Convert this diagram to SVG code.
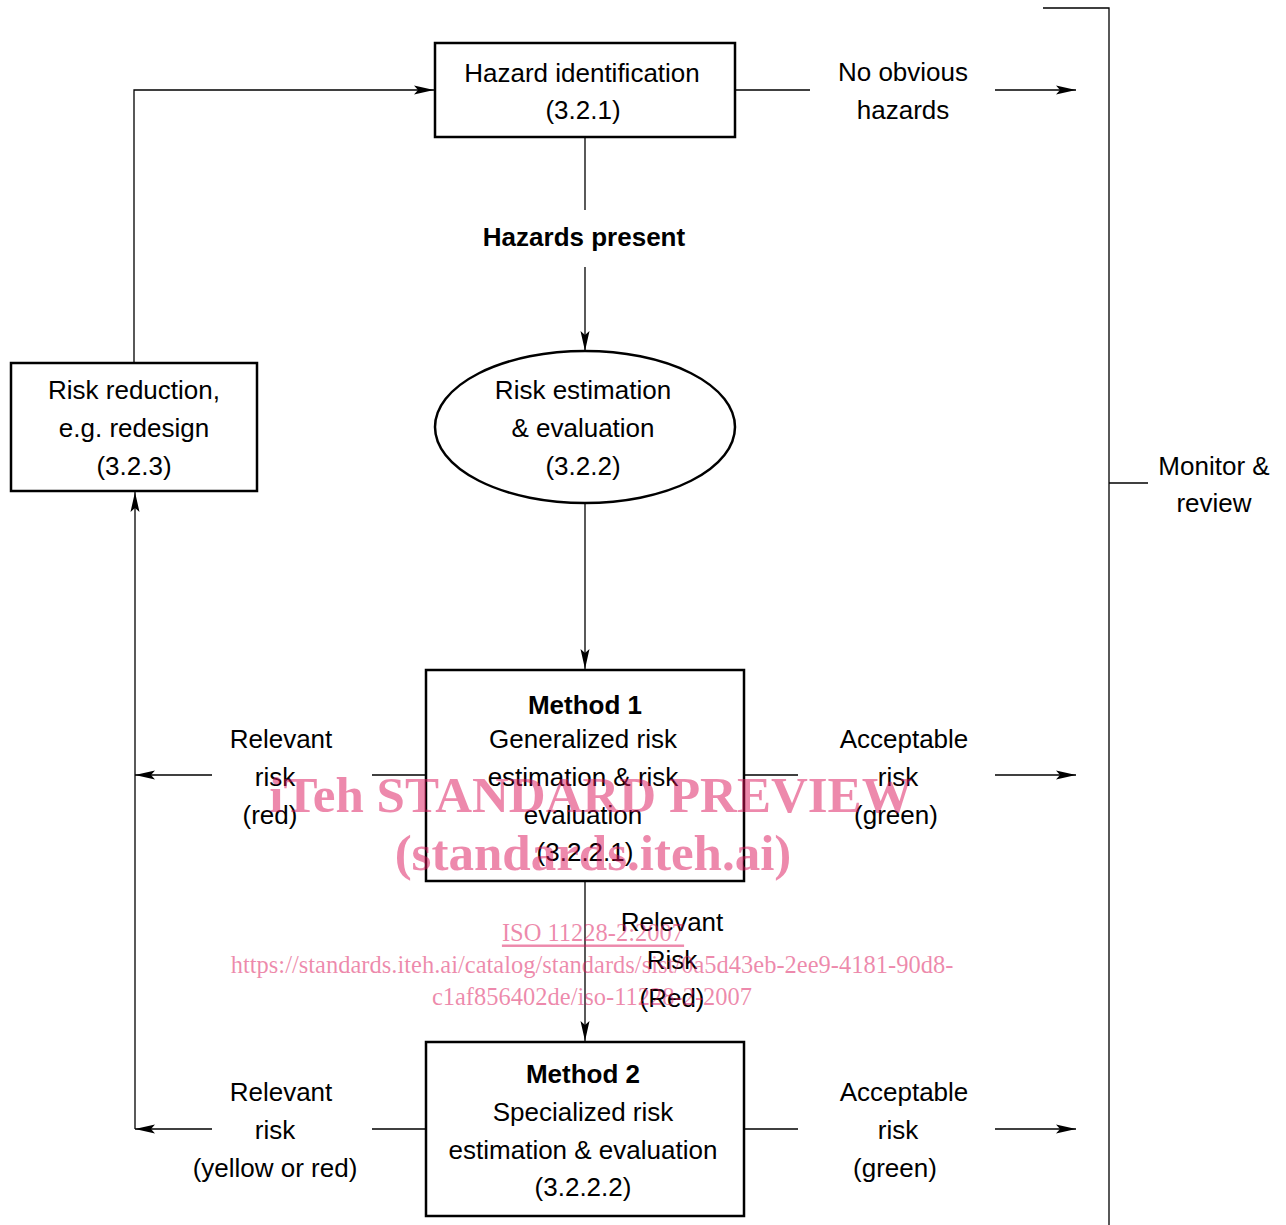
<svg xmlns="http://www.w3.org/2000/svg" width="1286" height="1225" viewBox="0 0 1286 1225">
<defs>
<marker id="arr" viewBox="0 0 20 10" refX="20" refY="5" markerWidth="20" markerHeight="10" markerUnits="userSpaceOnUse" orient="auto">
<path d="M0,0.5 L20,5 L0,9.5 L4,5 Z" fill="#000"/>
</marker>
<style>
.t{font-family:"Liberation Sans",Arial,sans-serif;font-size:26px;fill:#000;text-anchor:middle;dominant-baseline:central}
.b{font-weight:bold}
.box{fill:#fff;stroke:#000;stroke-width:2.5}
.ln{fill:none;stroke:#000;stroke-width:1.3}
.a{marker-end:url(#arr)}
.wm{font-family:"Liberation Serif","Times New Roman",serif;fill:#dc145a;fill-opacity:0.5;text-anchor:middle;dominant-baseline:central}
</style>
</defs>
<rect width="1286" height="1225" fill="#fff"/>
<g id="connectors">
<path class="ln" d="M735,90 H810"/>
<path class="ln a" d="M995,90 H1076"/>
<path class="ln" d="M1043,8 H1109 V1225"/>
<path class="ln" d="M1109,483 H1148"/>
<path class="ln" d="M585,137 V210"/>
<path class="ln a" d="M585,267 V351"/>
<path class="ln a" d="M585,503 V669"/>
<path class="ln" d="M426,775 H372"/>
<path class="ln a" d="M212,775 H135"/>
<path class="ln" d="M744,775 H798"/>
<path class="ln a" d="M995,775 H1076"/>
<path class="ln a" d="M585,881 V1041"/>
<path class="ln" d="M426,1129 H372"/>
<path class="ln a" d="M212,1129 H135"/>
<path class="ln" d="M744,1129 H798"/>
<path class="ln a" d="M995,1129 H1076"/>
<path class="ln a" d="M135,1129 V492"/>
<path class="ln a" d="M134,363 V90 H434"/>
</g>
<g id="hazard-identification">
<rect class="box" x="435" y="43" width="300" height="94"/>
<text class="t" x="582" y="73">Hazard identification</text>
<text class="t" x="583" y="110">(3.2.1)</text>
</g>
<g id="label-no-obvious">
<text class="t" x="903" y="72">No obvious</text>
<text class="t" x="903" y="110">hazards</text>
</g>
<g id="monitor-review">
<text class="t" x="1214" y="466">Monitor &amp;</text>
<text class="t" x="1214" y="503">review</text>
</g>
<g id="label-hazards-present">
<text class="t b" x="584" y="237">Hazards present</text>
</g>
<g id="risk-estimation">
<ellipse class="box" cx="585" cy="427" rx="150" ry="76"/>
<text class="t" x="583" y="390">Risk estimation</text>
<text class="t" x="583" y="428">&amp; evaluation</text>
<text class="t" x="583" y="466">(3.2.2)</text>
</g>
<g id="risk-reduction">
<rect class="box" x="11" y="363" width="246" height="128"/>
<text class="t" x="134" y="390">Risk reduction,</text>
<text class="t" x="134" y="428">e.g. redesign</text>
<text class="t" x="134" y="466">(3.2.3)</text>
</g>
<g id="method1">
<rect class="box" x="426" y="670" width="318" height="211"/>
<text class="t b" x="585" y="705">Method 1</text>
<text class="t" x="583" y="739">Generalized risk</text>
<text class="t" x="583" y="777">estimation &amp; risk</text>
<text class="t" x="583" y="815">evaluation</text>
<text class="t" x="585" y="852">(3.2.2.1)</text>
</g>
<g id="label-m1-relevant">
<text class="t" x="281" y="739">Relevant</text>
<text class="t" x="275" y="777">risk</text>
<text class="t" x="270" y="815">(red)</text>
</g>
<g id="label-m1-acceptable">
<text class="t" x="904" y="739">Acceptable</text>
<text class="t" x="898" y="777">risk</text>
<text class="t" x="896" y="815">(green)</text>
</g>
<g id="label-m1-down">
<text class="t" x="672" y="922">Relevant</text>
<text class="t" x="672" y="960">Risk</text>
<text class="t" x="672" y="998">(Red)</text>
</g>
<g id="method2">
<rect class="box" x="426" y="1042" width="318" height="174"/>
<text class="t b" x="583" y="1074">Method 2</text>
<text class="t" x="583" y="1112">Specialized risk</text>
<text class="t" x="583" y="1150">estimation &amp; evaluation</text>
<text class="t" x="583" y="1187">(3.2.2.2)</text>
</g>
<g id="label-m2-relevant">
<text class="t" x="281" y="1092">Relevant</text>
<text class="t" x="275" y="1130">risk</text>
<text class="t" x="275" y="1168">(yellow or red)</text>
</g>
<g id="label-m2-acceptable">
<text class="t" x="904" y="1092">Acceptable</text>
<text class="t" x="898" y="1130">risk</text>
<text class="t" x="895" y="1168">(green)</text>
</g>
<g id="watermark">
<text class="wm" x="591" y="795" font-size="51" font-weight="bold">iTeh STANDARD PREVIEW</text>
<text class="wm" x="593" y="853" font-size="51" font-weight="bold">(standards.iteh.ai)</text>
<text class="wm" x="593" y="932" font-size="24.5" text-decoration="underline">ISO 11228-2:2007</text>
<text class="wm" x="592" y="964" font-size="24.5">https://standards.iteh.ai/catalog/standards/sist/0a5d43eb-2ee9-4181-90d8-</text>
<text class="wm" x="592" y="996" font-size="24.5">c1af856402de/iso-11228-2-2007</text>
</g>
</svg>
